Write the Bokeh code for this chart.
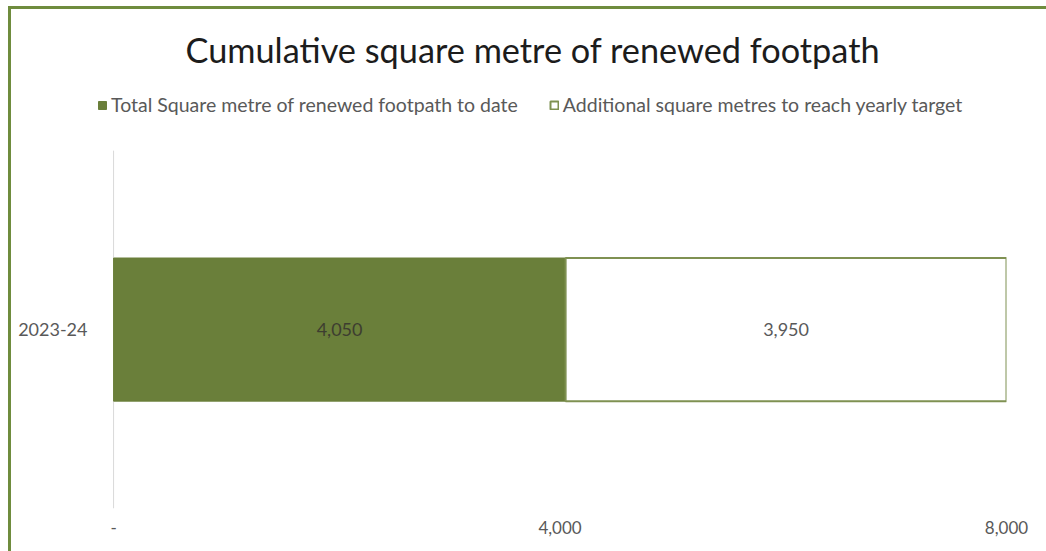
from bokeh.plotting import figure
from bokeh.models import (FixedTicker, Legend, LegendItem, ColumnDataSource,
                          LabelSet, Title, Range1d)
from bokeh.embed import file_html
from bokeh.resources import INLINE
from bokeh.core.properties import value

# ---- data ----
categories = ["2023-24"]
total_to_date = [4050]
additional = [3950]
series_names = ["Total Square metre of renewed footpath to date",
                "Additional square metres to reach yearly target"]
x_ticks = [0, 4000, 8000]
x_tick_labels = ["-", "4,000", "8,000"]
title_text = "Cumulative square metre of renewed footpath"

GREEN = "#6a7f3a"
BORDER = "#6f8c3e"
TEXT = "#595959"
FONT = "Lato"

# ---- layout constants (pixels) ----
FRAME_LEFT, FRAME_RIGHT, FRAME_TOP, FRAME_BOTTOM = 92, 1003, 85, 505
ZERO_PX = 113                      # where the value axis starts
BAND_TOP = 148                     # top of the category band
X_MAX = 8000
px_per_unit = (FRAME_RIGHT - ZERO_PX) / X_MAX
x_start = -(ZERO_PX - FRAME_LEFT) / px_per_unit
band_px = FRAME_BOTTOM - BAND_TOP
y_lo = -0.5
y_hi = -0.5 + (FRAME_BOTTOM - FRAME_TOP) / band_px * len(categories)

ys = list(range(len(categories)))
src = ColumnDataSource(dict(
    y=ys,
    total=total_to_date,
    add=additional,
    end=[a + b for a, b in zip(total_to_date, additional)],
    mid1=[t / 2 for t in total_to_date],
    mid2=[t + a / 2 for t, a in zip(total_to_date, additional)],
    lab1=[f"{v:,}" for v in total_to_date],
    lab2=[f"{v:,}" for v in additional],
))

p = figure(width=1038, height=545, x_range=Range1d(x_start, X_MAX), y_range=Range1d(y_lo, y_hi),
           output_backend="svg", toolbar_location=None,
           min_border_left=FRAME_LEFT - 11, min_border_right=1046 - FRAME_RIGHT,
           min_border_top=FRAME_TOP - 9, min_border_bottom=46)
p.margin = (6, 0, 0, 8)
p.styles = {"border-left": f"3px solid {BORDER}", "border-top": f"3px solid {BORDER}"}

# value-axis line at zero, spanning the category band
p.segment(x0=0, y0=-0.5, x1=0, y1=len(categories) - 0.5, line_color="#d9d9d9", line_width=1)

r1 = p.hbar(y="y", left=0, right="total", height=0.4, source=src,
            fill_color=GREEN, line_color=GREEN)
r2 = p.hbar(y="y", left="total", right="end", height=0.4, source=src,
            fill_color="white", line_color="#7f9152", line_width=2)

p.add_layout(LabelSet(x="mid1", y="y", text="lab1", source=src, text_align="center",
                      text_baseline="middle", text_font=value(FONT), text_font_size="18px",
                      text_color="#3d3d30"))
p.add_layout(LabelSet(x="mid2", y="y", text="lab2", source=src, text_align="center",
                      text_baseline="middle", text_font=value(FONT), text_font_size="18px",
                      text_color=TEXT))

legend = Legend(items=[LegendItem(label=series_names[0], renderers=[r1]),
                       LegendItem(label=series_names[1], renderers=[r2])],
                orientation="horizontal", location=(5, 392),
                label_text_font=FONT, label_text_font_size="19.5px", label_text_color=TEXT,
                glyph_width=10, glyph_height=10, label_standoff=4, spacing=31,
                border_line_color=None, background_fill_alpha=0, margin=0, padding=0)
p.add_layout(legend)

p.title = Title(text=title_text, align="left", text_font=FONT, text_font_size="34.3px",
                text_font_style="normal", text_color="#1c1c1c", standoff=35,
                offset=185 - FRAME_LEFT)

p.xaxis.ticker = FixedTicker(ticks=x_ticks)
p.xaxis.major_label_overrides = {t: l for t, l in zip(x_ticks, x_tick_labels)}
p.xaxis.axis_line_color = None
p.xaxis.major_tick_line_color = None
p.xaxis.minor_tick_line_color = None
p.xaxis.major_label_text_font = FONT
p.xaxis.major_label_text_font_size = "17px"
p.xaxis.major_label_text_color = TEXT
p.xaxis.major_label_standoff = 6

p.yaxis.ticker = FixedTicker(ticks=ys)
p.yaxis.major_label_overrides = {y: c for y, c in zip(ys, categories)}
p.yaxis.axis_line_color = None
p.yaxis.major_tick_line_color = None
p.yaxis.minor_tick_line_color = None
p.yaxis.major_label_text_font = FONT
p.yaxis.major_label_text_font_size = "18px"
p.yaxis.major_label_text_color = TEXT
p.yaxis.major_label_standoff = -1

p.xgrid.grid_line_color = None
p.ygrid.grid_line_color = None
p.outline_line_color = None

open("out.html", "w").write(file_html(p, INLINE))
